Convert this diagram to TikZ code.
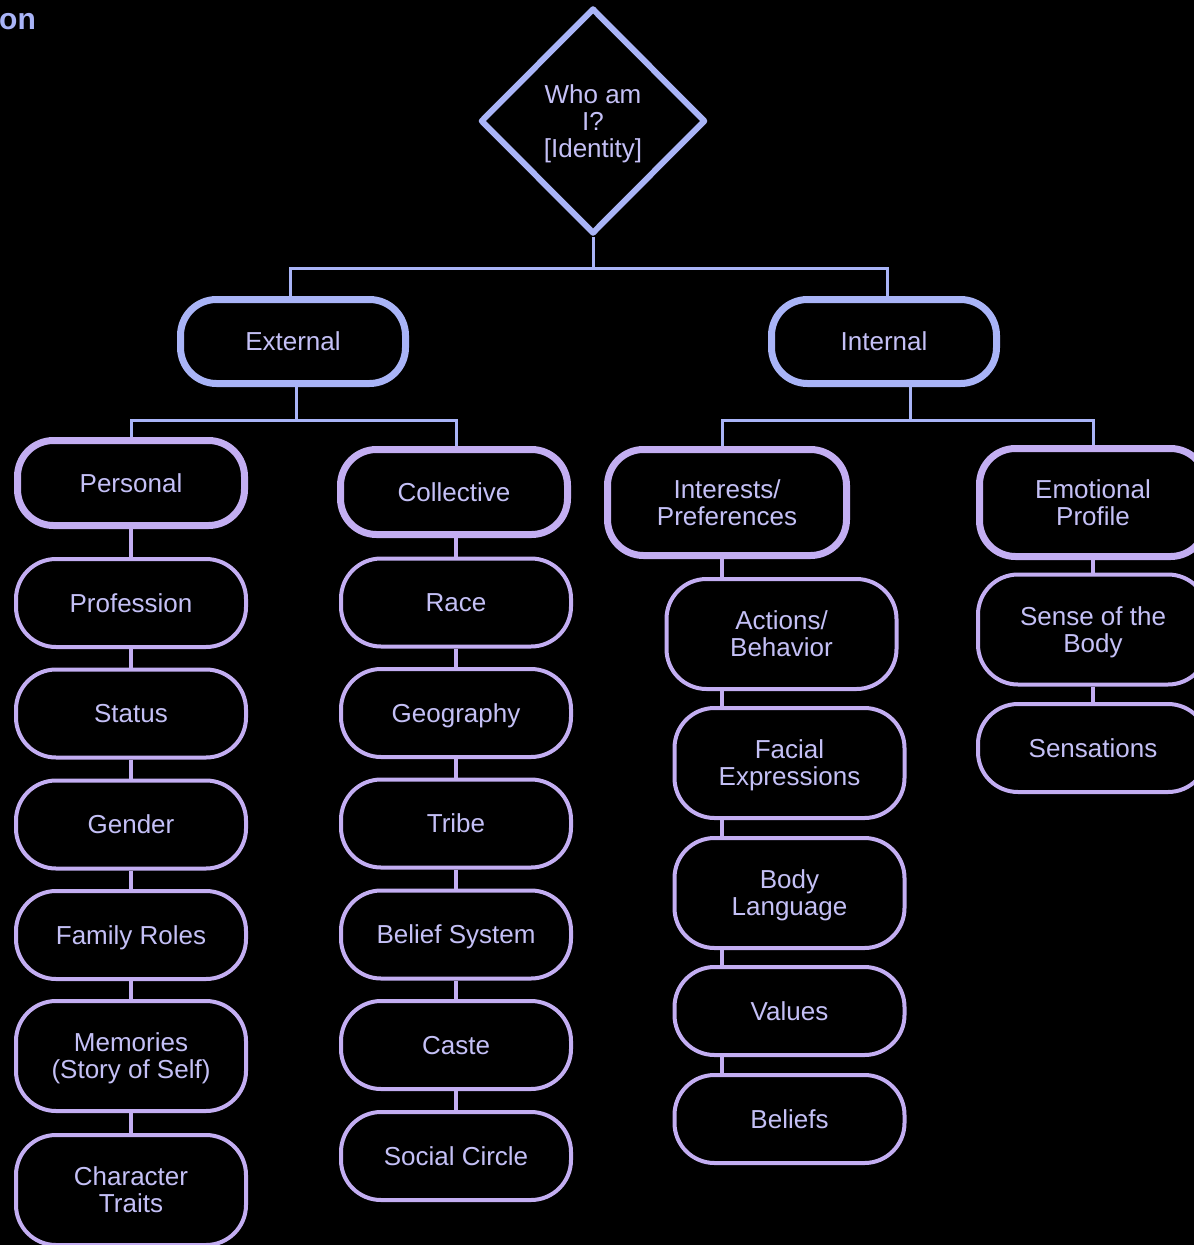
\documentclass[tikz,border=0pt]{standalone}
\usepackage{fontspec}
\setmainfont{Liberation Sans}
\usetikzlibrary{shapes.geometric}
\definecolor{peri}{HTML}{A9B4F7}
\definecolor{lav}{HTML}{C3AEF2}
\definecolor{txt}{HTML}{C4C0F6}
\newcommand\lblfont{\fontsize{26}{27}\selectfont}
\tikzset{
  lone/.style={draw=peri, line width=7pt, rounded corners=36pt, minimum width=225pt, minimum height=84pt, text=txt, align=center, font=\lblfont, inner sep=0pt, text depth=0pt},
  ltwo/.style={draw=lav, line width=7pt, rounded corners=36pt, minimum width=227pt, minimum height=85pt, text=txt, align=center, font=\lblfont, inner sep=0pt, text depth=0pt},
  leaf/.style={draw=lav, line width=4pt, rounded corners=40pt, minimum width=230pt, minimum height=88pt, text=txt, align=center, font=\lblfont, inner sep=0pt, text depth=0pt},
  tall/.style={minimum height=110pt},
  tree/.style={draw=peri, line width=3pt},
  link/.style={draw=lav, line width=4.5pt},
}
\begin{document}
\begin{tikzpicture}[x=1pt,y=-1pt]
\useasboundingbox (0,0) rectangle (1194,1245);
\fill[black] (0,0) rectangle (1194,1245);
\clip (0,0) rectangle (1194,1245);

\node[anchor=base west, text=peri, font=\bfseries\fontsize{30}{32}\selectfont, inner sep=0pt] (ttl) at (-1,29) {on};

% root
\node[shape=diamond, draw=peri, line width=6pt, line join=round, minimum width=225pt, minimum height=226pt, inner sep=0pt, text=txt, align=center, font=\lblfont, text depth=0pt] (who) at (593,121) {Who am\\ I?\\ {[Identity]}};

% level 1
\node[lone] (ext) at (293,341.5) {External};
\node[lone] (int) at (884,341.5) {Internal};

% level 2
\node[ltwo] (pers) at (131,483) {Personal};
\node[ltwo] (coll) at (454,492) {Collective};
\node[ltwo, minimum height=106pt, minimum width=239pt] (intr) at (727,502.5) {Interests/\\ Preferences};
\node[ltwo, minimum height=108pt] (emo) at (1093,502.5) {Emotional\\ Profile};

% personal leaves
\node[leaf] (prof) at (131,603) {Profession};
\node[leaf] (stat) at (131,713.5) {Status};
\node[leaf] (gend) at (131,824.5) {Gender};
\node[leaf] (fam) at (131,935) {Family Roles};
\node[leaf, tall] (mem) at (131,1056) {Memories\\ (Story of Self)};
\node[leaf, tall] (chr) at (131,1190) {Character\\ Traits};

% collective leaves
\node[leaf] (race) at (456,602.5) {Race};
\node[leaf] (geo) at (456,713) {Geography};
\node[leaf] (trb) at (456,823.5) {Tribe};
\node[leaf] (bsys) at (456,934.5) {Belief System};
\node[leaf] (cst) at (456,1045) {Caste};
\node[leaf] (soc) at (456,1156) {Social Circle};

% interests leaves
\node[leaf, tall] (act) at (781.5,634) {Actions/\\ Behavior};
\node[leaf, tall] (fac) at (789.5,763) {Facial\\ Expressions};
\node[leaf, tall] (bod) at (789.5,893) {Body\\ Language};
\node[leaf] (val) at (789.5,1011) {Values};
\node[leaf] (blf) at (789.5,1119) {Beliefs};

% emotional leaves
\node[leaf, tall] (sns) at (1093,629.5) {Sense of the\\ Body};
\node[leaf] (sen) at (1093,748) {Sensations};

% column guides
\coordinate (xE) at (290,0);
\coordinate (xI) at (887,0);
\coordinate (xEd) at (296,0);
\coordinate (xId) at (910,0);
\coordinate (xP) at (131,0);
\coordinate (xC) at (456,0);
\coordinate (xA) at (722,0);
\coordinate (xS) at (1093,0);
\coordinate (b1) at (593,268);
\coordinate (b2) at (296,420);
\coordinate (b3) at (910,420);

% tree connectors
\draw[tree] (who.south) -- (b1);
\draw[tree] (ext.north -| xE) |- (b1) -| (int.north -| xI);
\draw[tree] (ext.south -| xEd) -- (b2);
\draw[tree] (pers.north -| xP) |- (b2) -| (coll.north -| xC);
\draw[tree] (int.south -| xId) -- (b3);
\draw[tree] (intr.north -| xA) |- (b3) -| (emo.north -| xS);

% leaf connectors
\foreach \a/\b in {pers/prof, prof/stat, stat/gend, gend/fam, fam/mem, mem/chr}
  \draw[link] (\a.south -| xP) -- (\b.north -| xP);
\foreach \a/\b in {coll/race, race/geo, geo/trb, trb/bsys, bsys/cst, cst/soc}
  \draw[link] (\a.south -| xC) -- (\b.north -| xC);
\foreach \a/\b in {intr/act, act/fac, fac/bod, bod/val, val/blf}
  \draw[link] (\a.south -| xA) -- (\b.north -| xA);
\foreach \a/\b in {emo/sns, sns/sen}
  \draw[link] (\a.south -| xS) -- (\b.north -| xS);
\end{tikzpicture}
\end{document}
